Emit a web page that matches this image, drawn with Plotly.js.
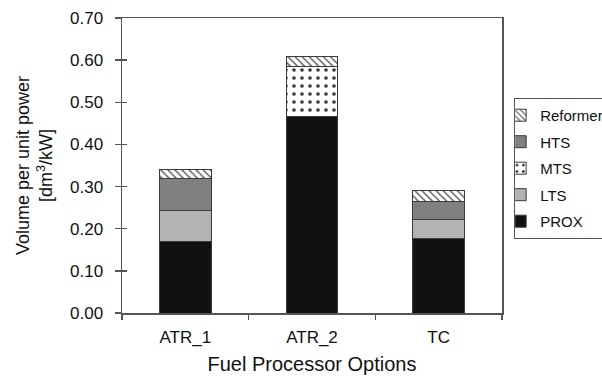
<!DOCTYPE html>
<html>
<head>
<meta charset="utf-8">
<script src="https://cdn.plot.ly/plotly-3.0.1.min.js"></script>
<style>html,body{margin:0;padding:0;background:#fff;}#chart{width:602px;height:376px;}</style>
</head>
<body>
<div id="chart"></div>
<script>
const categories = ["ATR_1", "ATR_2", "TC"];
const prox = [0.170, 0.467, 0.176];
const lts = [0.074, 0.000, 0.045];
const mts = [0.000, 0.119, 0.000];
const hts = [0.074, 0.000, 0.044];
const reformer = [0.022, 0.023, 0.026];
const yTicks = [0, 0.1, 0.2, 0.3, 0.4, 0.5, 0.6, 0.7];
const yTickLabels = ["0.00", "0.10", "0.20", "0.30", "0.40", "0.50", "0.60", "0.70"];

const font = "Liberation Sans, Arial, Helvetica, sans-serif";
const edge = {color: "#3a3a3a", width: 1};

function bar(name, vals, color, rank, pattern) {
  const m = {color: color, line: edge};
  if (pattern) m.pattern = pattern;
  return {type: "bar", name: name, x: categories, y: vals, marker: m, legendgroup: name, legendrank: rank};
}

const data = [
  bar("PROX", prox, "#111111", 5),
  bar("LTS", lts, "#b3b3b3", 4),
  bar("MTS", mts, "#ffffff", 3, {shape: ".", fgcolor: "#333", bgcolor: "#fff", size: 8, solidity: 0.16}),
  bar("HTS", hts, "#808080", 2),
  bar("Reformer", reformer, "#ffffff", 1, {shape: "\\", fgcolor: "#666", bgcolor: "#fff", size: 5, solidity: 0.3})
];
// invisible trace on overlaying axis for inner tick marks
data.push({type: "scatter", x: categories, y: [null, null, null], yaxis: "y2", showlegend: false, hoverinfo: "skip"});

const layout = {
  width: 602, height: 376,
  margin: {l: 122, r: 100, t: 18, b: 63, autoexpand: false},
  paper_bgcolor: "#fff", plot_bgcolor: "#fff",
  barmode: "stack", bargap: 0.59,
  font: {family: font, color: "#111", size: 17},
  showlegend: true,
  legend: {
    x: 1.032, xanchor: "left", y: 0.729, yanchor: "top",
    traceorder: "grouped", tracegroupgap: 4,
    indentation: -15,
    bordercolor: "#555", borderwidth: 1, bgcolor: "#fff",
    font: {family: font, size: 15, color: "#111"}
  },
  xaxis: {
    showline: true, linecolor: "#555", linewidth: 1.5, mirror: true,
    ticks: "outside", ticklen: 5, tickcolor: "#555", tickwidth: 1.5,
    tickson: "boundaries", showgrid: false, zeroline: false,
    ticklabelstandoff: 8,
    tickfont: {family: font, size: 17, color: "#111"},
    title: {text: "Fuel Processor Options", font: {family: font, size: 20, color: "#111"}, standoff: 11}
  },
  yaxis: {
    range: [0, 0.7], tickvals: yTicks, ticktext: yTickLabels,
    showline: true, linecolor: "#555", linewidth: 1.5, mirror: true,
    ticks: "outside", ticklen: 6, tickcolor: "#555", tickwidth: 1.5,
    ticklabelstandoff: 8,
    showgrid: false, zeroline: false,
    tickfont: {family: font, size: 17, color: "#111"},
    title: {text: "Volume per unit power<br>[dm<sup>3</sup>/kW]", font: {family: font, size: 18, color: "#111"}, standoff: 12}
  },
  yaxis2: {
    overlaying: "y", matches: "y", range: [0, 0.7], tickvals: yTicks,
    ticks: "inside", ticklen: 5, tickcolor: "#555", tickwidth: 1.5,
    showticklabels: false, showgrid: false, zeroline: false, showline: false
  }
};

Plotly.newPlot("chart", data, layout, {staticPlot: true, displayModeBar: false});
</script>
</body>
</html>
